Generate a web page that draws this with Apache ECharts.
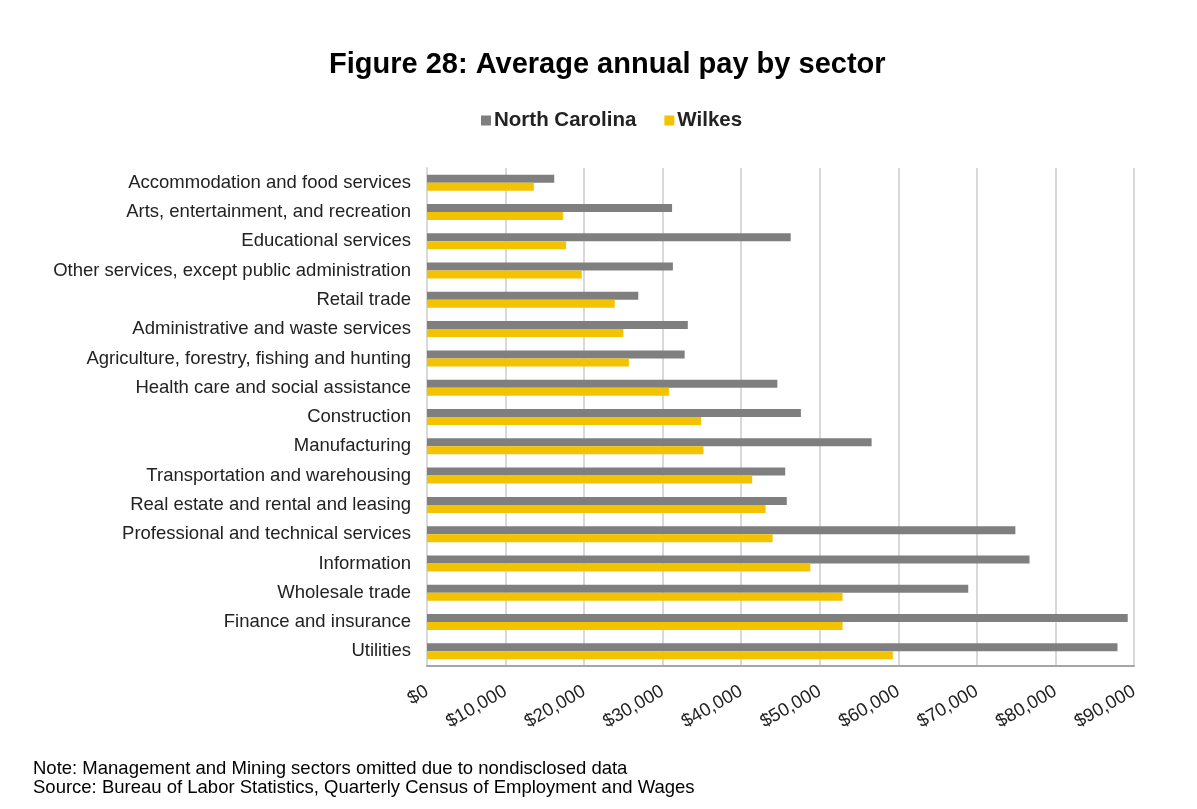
<!DOCTYPE html>
<html>
<head>
<meta charset="utf-8">
<script src="https://cdn.jsdelivr.net/npm/echarts@6/dist/echarts.min.js"></script>
<style>
  html, body { margin: 0; padding: 0; background: #ffffff; }
  #chart { width: 1197px; height: 809px; }
</style>
</head>
<body>
<div id="chart"></div>
<script>
// Sectors, listed top to bottom
const sectors = [
  'Accommodation and food services',
  'Arts, entertainment, and recreation',
  'Educational services',
  'Other services, except public administration',
  'Retail trade',
  'Administrative and waste services',
  'Agriculture, forestry, fishing and hunting',
  'Health care and social assistance',
  'Construction',
  'Manufacturing',
  'Transportation and warehousing',
  'Real estate and rental and leasing',
  'Professional and technical services',
  'Information',
  'Wholesale trade',
  'Finance and insurance',
  'Utilities'
];

// Average annual pay, dollars
const northCarolina = [16200, 31200, 46300, 31300, 26900, 33200, 32800, 44600, 47600, 56600, 45600, 45800, 74900, 76700, 68900, 89200, 87900];
const wilkes = [13600, 17300, 17700, 19700, 23900, 25000, 25700, 30800, 34900, 35200, 41400, 43100, 44000, 48800, 52900, 52900, 59300];

const seriesNames = ['North Carolina', 'Wilkes'];
const axisMax = 90000;
const axisStep = 10000;

const FONT = '"Liberation Sans", Arial, sans-serif';

const chart = echarts.init(document.getElementById('chart'), null, { renderer: 'canvas' });

chart.setOption({
  backgroundColor: '#ffffff',
  animation: false,
  title: {
    text: 'Figure 28: Average annual pay by sector',
    left: 324,
    top: 45,
    textStyle: { fontFamily: FONT, fontSize: 29, fontWeight: 'bold', color: '#000000' }
  },
  legend: {
    data: seriesNames,
    top: 105,
    left: 476,
    itemWidth: 10,
    itemHeight: 10,
    itemGap: 28,
    icon: 'rect',
    textStyle: { fontFamily: FONT, fontSize: 20.5, fontWeight: 'bold', color: '#222222', padding: [0, 0, 0, -2] }
  },
  grid: {
    left: 427,
    right: 63,
    top: 168,
    bottom: 143,
    containLabel: false
  },
  xAxis: {
    type: 'value',
    min: 0,
    max: axisMax,
    interval: axisStep,
    axisLine: { show: true, lineStyle: { color: '#a6a6a6', width: 2 } },
    axisTick: { show: false },
    splitLine: { show: true, lineStyle: { color: '#d9d9d9', width: 2 } },
    axisLabel: {
      rotate: 30,
      margin: 24,
      fontFamily: FONT,
      fontSize: 18.5,
      color: '#222222',
      formatter: v => '$' + v.toLocaleString('en-US')
    }
  },
  yAxis: {
    type: 'category',
    data: sectors,
    inverse: true,
    axisLine: { show: true, lineStyle: { color: '#d9d9d9', width: 2 } },
    axisTick: { show: false },
    axisLabel: { fontFamily: FONT, fontSize: 18.5, color: '#222222', margin: 16 }
  },
  series: [
    {
      name: seriesNames[0],
      type: 'bar',
      data: northCarolina,
      itemStyle: { color: '#7f7f7f' },
      barWidth: 8,
      barGap: '0%'
    },
    {
      name: seriesNames[1],
      type: 'bar',
      data: wilkes,
      itemStyle: { color: '#f4c300' },
      barWidth: 8,
      barGap: '0%'
    }
  ],
  graphic: [
    {
      type: 'text',
      left: 33,
      top: 759,
      style: {
        text: 'Note: Management and Mining sectors omitted due to nondisclosed data\nSource: Bureau of Labor Statistics, Quarterly Census of Employment and Wages',
        font: '18.5px ' + FONT,
        fill: '#000000',
        lineHeight: 19
      }
    }
  ]
});
</script>
</body>
</html>
